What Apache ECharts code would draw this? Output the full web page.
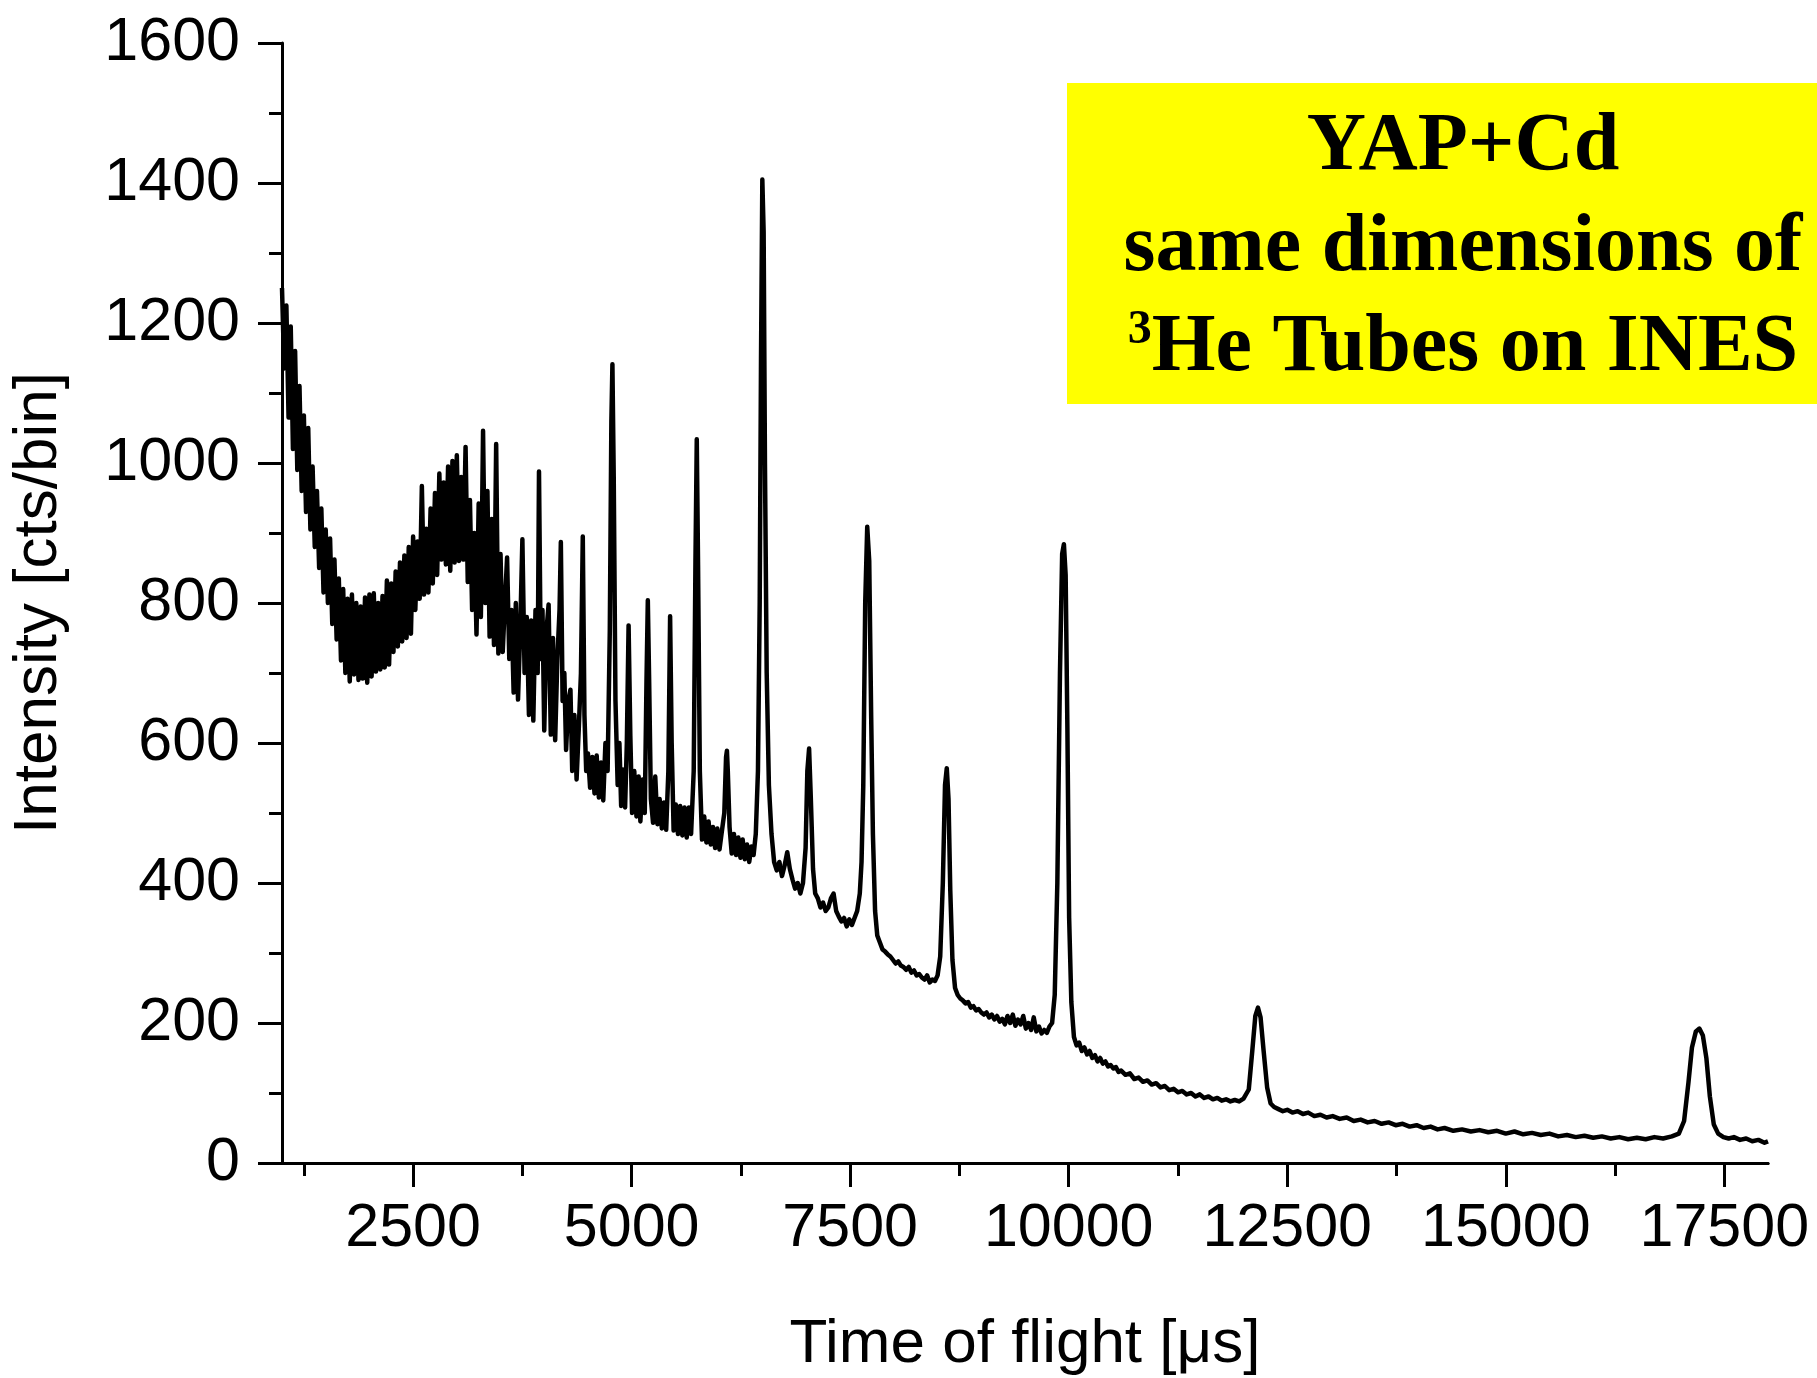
<!DOCTYPE html>
<html>
<head>
<meta charset="utf-8">
<title>YAP+Cd time of flight</title>
<script src="https://cdn.jsdelivr.net/npm/echarts@6/dist/echarts.min.js"></script>
<style>
  html, body { margin: 0; padding: 0; background: #fff; }
  #chart { width: 1817px; height: 1378px; }
</style>
</head>
<body>
<div id="chart"></div>
<script>
// time of flight [us] / counts per bin, split by region
const tofLow = [
  1000, 1025, 1050, 1075, 1100, 1125, 1150, 1175, 1200, 1225, 1250, 1275, 1300, 1325, 1350, 1375,
  1400, 1425, 1450, 1475, 1500, 1525, 1550, 1575, 1600, 1625, 1650, 1675, 1700, 1725, 1750, 1775,
  1800, 1825, 1850, 1875, 1900, 1925, 1950, 1975, 2000, 2025, 2050, 2075, 2100, 2125, 2150, 2175,
  2200, 2225, 2250, 2275, 2300, 2325, 2350, 2375, 2400, 2425, 2450, 2475, 2500, 2525, 2550, 2575,
  2600, 2625, 2650, 2675, 2700, 2725, 2750, 2775, 2800, 2825, 2850, 2875, 2900, 2925, 2950, 2975,
  3000, 3025, 3050, 3075, 3100, 3125, 3150, 3175, 3200, 3225, 3250, 3275, 3300, 3325, 3350, 3375,
  3400, 3425, 3450, 3475, 3500
]
const cntLow = [
  1250, 1135, 1225, 1065, 1195, 1020, 1160, 990, 1110, 960, 1068, 930, 1050, 905, 995, 880,
  960, 850, 935, 815, 905, 800, 892, 770, 862, 748, 835, 718, 820, 700, 806, 688,
  812, 698, 800, 690, 795, 692, 808, 686, 812, 695, 814, 702, 800, 705, 810, 708,
  832, 712, 828, 730, 845, 738, 858, 745, 868, 750, 880, 756, 895, 790, 888, 806,
  967, 812, 906, 815, 935, 828, 957, 840, 985, 862, 972, 855, 995, 846, 1003, 858,
  1011, 860, 980, 862, 1023, 830, 947, 790, 900, 755, 942, 780, 1046, 800, 960, 752,
  920, 740, 1027, 728, 870
]

const tofMid = [
  3525, 3550, 3575, 3600, 3625, 3650, 3675, 3700, 3725, 3750, 3775, 3800, 3825, 3850, 3875, 3900,
  3925, 3940, 3960, 3980, 4000, 4025, 4050, 4075, 4100, 4125, 4150, 4175, 4190, 4210, 4230, 4250,
  4275, 4300, 4320, 4345, 4370, 4395, 4420, 4441, 4460, 4480, 4500, 4525, 4550, 4575, 4600, 4625,
  4650, 4675, 4700, 4725, 4750, 4768, 4780, 4795, 4815, 4840, 4860, 4880, 4900, 4925, 4945, 4965,
  4985, 5005, 5030, 5055, 5080, 5100, 5125, 5150, 5170, 5185, 5200, 5220, 5245, 5270, 5295, 5320,
  5345, 5370, 5395, 5420, 5440, 5458, 5480, 5505, 5530, 5555, 5580, 5605, 5630, 5655, 5680, 5710,
  5730, 5745, 5760, 5780, 5805, 5830, 5855, 5880, 5905, 5930, 5955, 5980, 6005, 6030, 6060, 6080,
  6090, 6100, 6120, 6145, 6170, 6195, 6220, 6245, 6270, 6295, 6320, 6345, 6370, 6395, 6420
]
const cntMid = [
  730, 800, 865, 720, 790, 672, 800, 662, 760, 891, 700, 780, 640, 775, 632, 790,
  700, 988, 720, 790, 618, 760, 798, 612, 750, 604, 720, 790, 887, 660, 700, 590,
  660, 676, 560, 640, 548, 620, 700, 895, 640, 560, 585, 536, 580, 528, 582, 522,
  572, 518, 600, 560, 760, 1060, 1141, 980, 660, 540, 600, 510, 562, 508, 600, 768,
  610, 500, 560, 495, 552, 488, 548, 500, 690, 804, 690, 520, 486, 552, 484, 520,
  478, 515, 476, 560, 781, 600, 475, 512, 470, 510, 468, 508, 465, 508, 470, 560,
  860, 1034, 850, 560, 462, 495, 458, 488, 455, 480, 450, 478, 448, 472, 500, 580,
  589, 560, 480, 442, 470, 440, 465, 436, 462, 434, 455, 430, 452, 440, 470
]

const tofPeaks = [
  6445, 6465, 6480, 6495, 6510, 6525, 6545, 6570, 6600, 6630, 6660, 6690, 6720, 6750, 6780, 6810,
  6840, 6870, 6900, 6930, 6960, 6990, 7010, 7030, 7050, 7075, 7100, 7130, 7160, 7190, 7220, 7250,
  7280, 7310, 7340, 7370, 7400, 7430, 7460, 7490, 7520, 7550, 7580, 7610, 7630, 7650, 7672, 7695,
  7718, 7740, 7760, 7785, 7810, 7840, 7870, 7900, 7930, 7960, 7990, 8020, 8050, 8080, 8110, 8140,
  8170, 8200, 8230, 8260, 8290, 8320, 8350, 8380, 8410, 8440, 8470, 8500, 8530, 8560, 8585, 8605,
  8625, 8645, 8670, 8700, 8730, 8760, 8790, 8820, 8850, 8880, 8910, 8940, 8970, 9000, 9030, 9060,
  9090, 9120, 9150, 9180, 9210, 9240, 9270, 9300, 9330, 9360, 9390, 9420, 9450, 9480, 9510, 9540,
  9570, 9600, 9630, 9660, 9690, 9720, 9750, 9780, 9810, 9840, 9870, 9900, 9925, 9945, 9965, 9985,
  10005, 10030
]
const cntPeaks = [
  560, 800, 1150, 1405, 1330, 1000, 700, 540, 470, 430, 418, 430, 410, 425, 444, 420,
  405, 392, 400, 385, 400, 450, 560, 592, 520, 420, 385, 378, 365, 372, 360, 365,
  378, 385, 360, 352, 345, 350, 338, 348, 340, 350, 360, 385, 430, 540, 800, 909,
  860, 640, 470, 360, 325, 315, 305, 302, 298, 295, 290, 285, 288, 282, 280, 276,
  280, 272, 275, 268, 270, 265, 262, 268, 258, 262, 260, 268, 295, 400, 540, 564,
  520, 390, 290, 250, 240, 235, 232, 228, 230, 222, 224, 218, 220, 215, 212, 215,
  208, 212, 205, 210, 202, 206, 198, 210, 200, 212, 196, 205, 198, 210, 192, 200,
  190, 208, 188, 195, 185, 190, 186, 195, 200, 240, 400, 700, 870, 884, 840, 620,
  350, 230
]

const tofTail = [
  10060, 10090, 10120, 10150, 10180, 10210, 10240, 10270, 10300, 10330, 10360, 10390, 10420, 10450, 10480, 10510,
  10540, 10570, 10600, 10650, 10700, 10750, 10800, 10850, 10900, 10950, 11000, 11050, 11100, 11150, 11200, 11250,
  11300, 11350, 11400, 11450, 11500, 11550, 11600, 11650, 11700, 11750, 11800, 11850, 11900, 11950, 12000, 12060,
  12100, 12135, 12165, 12195, 12230, 12270, 12310, 12350, 12400, 12450, 12500, 12560, 12620, 12680, 12740, 12810,
  12880, 12950, 13020, 13100, 13180, 13260, 13340, 13420, 13500, 13580, 13660, 13740, 13820, 13900, 13980, 14060,
  14140, 14220, 14300, 14400, 14500, 14600, 14700, 14800, 14900, 15000, 15100, 15200, 15300, 15400, 15500, 15600,
  15700, 15800, 15900, 16000, 16100, 16200, 16300, 16400, 16500, 16600, 16700, 16800, 16900, 16980, 17040, 17090,
  17130, 17175, 17215, 17255, 17295, 17335, 17380, 17430, 17490, 17550, 17610, 17680, 17750, 17820, 17890, 17960,
  18000
]
const cntTail = [
  180, 168, 172, 160, 165, 155, 160, 150, 154, 145, 150, 142, 145, 138, 140, 135,
  137, 130, 132, 126, 128, 120, 122, 116, 118, 112, 114, 108, 110, 104, 106, 101,
  103, 98, 100, 95, 98, 93, 95, 91, 93, 89, 91, 88, 90, 88, 92, 105,
  160, 210, 222, 208, 160, 108, 85, 80, 77, 74, 76, 72, 74, 70, 72, 67,
  69, 65, 67, 63, 65, 60, 62, 58, 60, 56, 58, 54, 56, 52, 54, 50,
  52, 48, 50, 46, 48, 45, 47, 44, 46, 42, 45, 41, 43, 40, 42, 38,
  40, 37, 39, 36, 38, 35, 37, 34, 36, 34, 37, 35, 38, 42, 60, 115,
  165, 188, 192, 182, 150, 95, 55, 42, 37, 35, 37, 33, 35, 31, 33, 29,
  31
]

// axis ticks
const xMajorTicks = [2500, 5000, 7500, 10000, 12500, 15000, 17500]
const xMinorTicks = [1250, 3750, 6250, 8750, 11250, 13750, 16250]

const tof = tofLow.concat(tofMid, tofPeaks, tofTail)
const counts = cntLow.concat(cntMid, cntPeaks, cntTail)
const seriesData = tof.map((t, i) => [t, counts[i]])

const sansFont = '"Liberation Sans", Arial, sans-serif'
const serifFont = '"Liberation Serif", "Times New Roman", serif'

// width of the 3rd box line, so the superscript can sit in front of it
const measureCtx = document.createElement('canvas').getContext('2d')
function textWidth (text, size) {
  measureCtx.font = 'bold ' + size + 'px ' + serifFont
  return measureCtx.measureText(text).width
}
const boxCenterX = 1463
const line3 = 'He Tubes on INES'
const supSize = 48
const line3W = textWidth(line3, 82)
const supW = textWidth('3', supSize)
const line3Left = boxCenterX - (line3W + supW) / 2

const chart = echarts.init(document.getElementById('chart'))
chart.setOption({
  animation: false,
  backgroundColor: '#fff',
  grid: {
    left: 282,
    right: 49,
    top: 43,
    bottom: 215,
    containLabel: false,
    outerBoundsMode: 'none'
  },
  xAxis: [{
    type: 'value',
    position: 'bottom',
    min: 1000,
    max: 18000,
    name: 'Time of flight [μs]',
    nameLocation: 'middle',
    nameGap: 151,
    nameMoveOverlap: false,
    nameTextStyle: { fontSize: 62, color: '#000', fontFamily: sansFont },
    axisLine: { show: true, lineStyle: { color: '#000', width: 3 } },
    axisTick: {
      show: true,
      customValues: xMajorTicks,
      length: 24,
      lineStyle: { color: '#000', width: 3 }
    },
    axisLabel: {
      customValues: xMajorTicks,
      formatter: v => String(v),
      fontSize: 61,
      color: '#000',
      fontFamily: sansFont,
      margin: 36
    },
    splitLine: { show: false }
  }, {
    // minor ticks only
    type: 'value',
    position: 'bottom',
    min: 1000,
    max: 18000,
    axisLine: { show: true, lineStyle: { color: '#000', width: 3 } },
    axisTick: {
      show: true,
      customValues: xMinorTicks,
      length: 13,
      lineStyle: { color: '#000', width: 3 }
    },
    axisLabel: { show: false },
    splitLine: { show: false }
  }],
  yAxis: {
    type: 'value',
    min: 0,
    max: 1600,
    interval: 200,
    name: 'Intensity [cts/bin]',
    nameLocation: 'middle',
    nameGap: 212,
    nameMoveOverlap: false,
    nameTextStyle: { fontSize: 62, color: '#000', fontFamily: sansFont },
    axisLine: { show: true, lineStyle: { color: '#000', width: 3 } },
    axisTick: { show: true, length: 24, lineStyle: { color: '#000', width: 3 } },
    minorTick: { show: true, splitNumber: 2, length: 13, lineStyle: { color: '#000', width: 3 } },
    axisLabel: { formatter: v => String(v), fontSize: 61, color: '#000', fontFamily: sansFont, margin: 42 },
    splitLine: { show: false },
    minorSplitLine: { show: false }
  },
  graphic: [
    {
      type: 'rect',
      shape: { x: 1067, y: 83, width: 750, height: 321 },
      style: { fill: '#ffff00' }
    },
    {
      type: 'text',
      style: {
        x: boxCenterX, y: 148, text: 'YAP+Cd', align: 'center', verticalAlign: 'middle',
        fill: '#000', fontSize: 82, fontWeight: 'bold', fontFamily: serifFont
      }
    },
    {
      type: 'text',
      style: {
        x: boxCenterX, y: 249, text: 'same dimensions of', align: 'center', verticalAlign: 'middle',
        fill: '#000', fontSize: 82, fontWeight: 'bold', fontFamily: serifFont
      }
    },
    {
      type: 'text',
      style: {
        x: line3Left, y: 331, text: '3', align: 'left', verticalAlign: 'middle',
        fill: '#000', fontSize: supSize, fontWeight: 'bold', fontFamily: serifFont
      }
    },
    {
      type: 'text',
      style: {
        x: line3Left + supW, y: 349, text: line3, align: 'left', verticalAlign: 'middle',
        fill: '#000', fontSize: 82, fontWeight: 'bold', fontFamily: serifFont
      }
    }
  ],
  series: [{
    type: 'line',
    xAxisIndex: 0,
    data: seriesData,
    showSymbol: false,
    symbol: 'none',
    sampling: null,
    lineStyle: { color: '#000', width: 4.5, join: 'round' },
    emphasis: { disabled: true }
  }]
})
</script>
</body>
</html>
